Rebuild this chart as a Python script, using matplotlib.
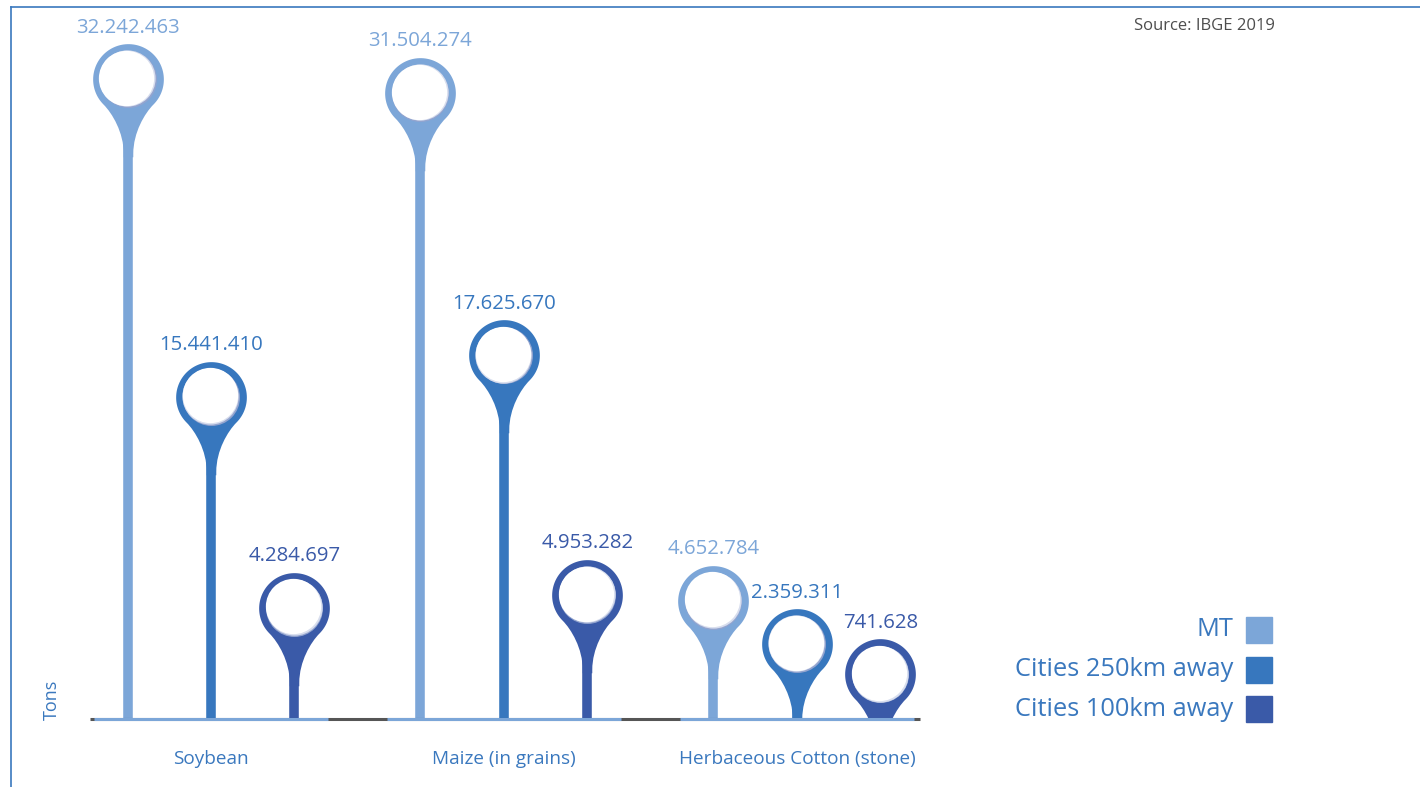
import numpy as np
import matplotlib.pyplot as plt
from matplotlib.path import Path
from matplotlib.lines import Line2D
from matplotlib.patches import Rectangle
from matplotlib.transforms import ScaledTranslation
from matplotlib.colors import to_rgb

plt.rcParams['font.family'] = ['Open Sans', 'DejaVu Sans']

# data (tons, IBGE 2019)
crops = ['Soybean', 'Maize (in grains)', 'Herbaceous Cotton (stone)']
series = ['MT', 'Cities 250km away', 'Cities 100km away']
mt = [32242463, 31504274, 4652784]
cities_250 = [15441410, 17625670, 2359311]
cities_100 = [4284697, 4953282, 741628]

colors = ['#7ca6d8', '#3777be', '#3a5aa8']
text_blue = '#3a78be'


def fmt(v):
    return f'{v:,}'.replace(',', '.')


def mix(c, amount):
    # blend colour c towards white
    r = np.array(to_rgb(c))
    return tuple(r + (1 - r) * amount)


# pin head marker: disc (radius 1) with a concave neck flaring into the stem
neck = 0.135
a0 = np.radians(-45)
end = np.array([np.cos(a0), np.sin(a0)])
tang = np.array([-np.sin(a0), np.cos(a0)])
c2 = end - 0.35 * tang
arc = np.linspace(a0, np.pi - a0, 90)

verts = [(neck, -2.2), (neck, -2.1), (neck, -1.5), tuple(c2), tuple(end)]
codes = [Path.MOVETO, Path.LINETO, Path.CURVE4, Path.CURVE4, Path.CURVE4]
for t in arc[1:]:
    verts.append((np.cos(t), np.sin(t)))
    codes.append(Path.LINETO)
verts += [(-c2[0], c2[1]), (-neck, -1.5), (-neck, -2.1), (-neck, -2.2), (neck, -2.2)]
codes += [Path.CURVE4, Path.CURVE4, Path.CURVE4, Path.LINETO, Path.CLOSEPOLY]
pin = Path(verts, codes)

fig = plt.figure(figsize=(14.2, 7.87), dpi=100)
ax = fig.add_axes([90 / 1420, 68 / 787, 830 / 1420, 712 / 787])

top = max(mt)
y0 = -0.05 * top
ax.set_xlim(-0.413, 2.42)
ax.set_ylim(y0, 1.118 * top)

groups = np.arange(len(crops))
offsets = [-0.285, 0, 0.285]

# small shifts (inches) for the soft inner shadow of the hole
sh1 = ax.transData + ScaledTranslation(-0.005, 0.005, fig.dpi_scale_trans)
sh2 = ax.transData + ScaledTranslation(-0.011, 0.011, fig.dpi_scale_trans)

for vals, off, c in zip([mt, cities_250, cities_100], offsets, colors):
    x = groups + off
    ax.vlines(x, y0, vals, color=c, lw=6.9, zorder=2)
    ax.plot(x, vals, ls='none', marker=pin, ms=112, mfc=c, mec='none', zorder=3)
    ax.plot(x, vals, ls='none', marker='o', ms=41, mfc=mix('#3a5aa8', 0.45),
            mec='none', zorder=4)
    ax.plot(x, vals, ls='none', marker='o', ms=40.5, mfc=mix('#3a5aa8', 0.8),
            mec='none', zorder=4.1, transform=sh1)
    ax.plot(x, vals, ls='none', marker='o', ms=39.8, mfc='white',
            mec='none', zorder=4.2, transform=sh2)
    for xi, v in zip(x, vals):
        ax.annotate(fmt(v), (xi, v), xytext=(0, 37), textcoords='offset points',
                    ha='center', va='center', fontsize=14.7, color=c)

# baseline
ax.plot(ax.get_xlim(), [y0, y0], color='#555555', lw=2.2, clip_on=False,
        solid_capstyle='butt', zorder=5)
for g in groups:
    ax.plot([g - 0.4, g + 0.4], [y0, y0], color=colors[0], lw=2.2, clip_on=False,
            solid_capstyle='butt', zorder=6)

ax.set_xticks(groups, crops, fontsize=13.7, color=text_blue)
ax.tick_params(axis='x', length=0, pad=22)
ax.set_yticks([])
for s in ax.spines.values():
    s.set_visible(False)

# frame lines
fig.add_artist(Line2D([11 / 1420, 11 / 1420], [0, 1 - 7 / 787], color=text_blue, lw=1.2))
fig.add_artist(Line2D([11 / 1420, 1], [1 - 7 / 787, 1 - 7 / 787], color=text_blue, lw=1.2))

fig.text(1275 / 1420, 1 - 26 / 787, 'Source: IBGE 2019', ha='right', va='center',
         fontsize=12, color='#4d4d4d')
fig.text(52 / 1420, 1 - 700 / 787, 'Tons', rotation=90, ha='center', va='center',
         fontsize=13, color=text_blue)

# legend
for i, (name, c) in enumerate(zip(series, colors)):
    yp = 630 + i * 39.5
    fig.text(1233 / 1420, 1 - yp / 787, name, ha='right', va='center',
             fontsize=18.3, color=text_blue)
    fig.add_artist(Rectangle((1246 / 1420, 1 - (yp + 13) / 787), 26 / 1420, 26 / 787,
                             color=c, transform=fig.transFigure))

fig.savefig('out.png', dpi=100)
